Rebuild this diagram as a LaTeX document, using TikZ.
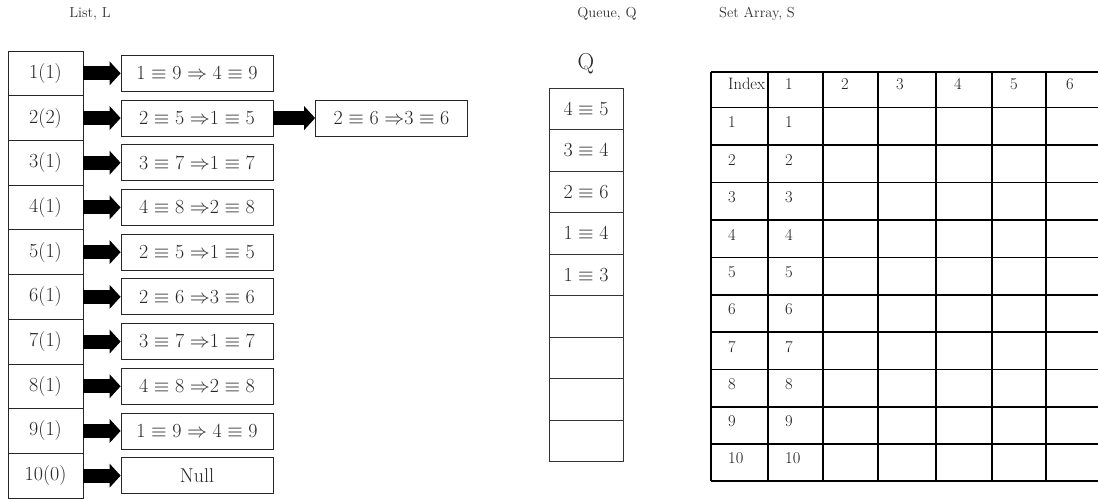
\documentclass[tikz,border=0pt]{standalone}
\usepackage{fix-cm}
\usetikzlibrary{arrows.meta}
\begin{document}
\begin{tikzpicture}[x=1pt,y=-1pt,
  lfont/.style={font=\fontsize{20}{22}\selectfont},
  lcell/.style={draw=black!85, line width=0.7pt, minimum width=75pt, minimum height=44.7pt, inner sep=0pt, text=black!85, lfont},
  lbox/.style={draw=black!85, line width=0.8pt, minimum width=152pt, minimum height=36pt, inner sep=0pt, text=black!85, lfont},
  qcell/.style={draw=black!80, line width=0.7pt, minimum width=74pt, minimum height=41.5pt, inner sep=0pt, text=black!85, lfont},
  blockarr/.style={line width=14pt, black, -{Triangle[length=11pt,width=24pt,line width=0pt]}},
  title/.style={font=\fontsize{14.5}{16}\selectfont, text=black!80, inner sep=0pt},
  tgrid/.style={line width=1.8pt, black},
  ttext/.style={font=\fontsize{16.5}{18}\selectfont, anchor=west, inner sep=0pt, text=black!90}
]
\useasboundingbox[fill=white] (0,0) rectangle (1098,500);

% titles
\node[title] (tL) at (90,14) {List, L};
\node[title] (tQ) at (607,14) {Queue, Q};
\node[title] (tS) at (757,14) {Set Array, S};

% list
\foreach \i/\lab/\txt in {
  1/1(1)/{$1\equiv 9\Rightarrow 4\equiv 9$},
  2/2(2)/{$2\equiv 5\Rightarrow\mkern-5mu 1\equiv 5$},
  3/3(1)/{$3\equiv 7\Rightarrow\mkern-5mu 1\equiv 7$},
  4/4(1)/{$4\equiv 8\Rightarrow\mkern-5mu 2\equiv 8$},
  5/5(1)/{$2\equiv 5\Rightarrow\mkern-5mu 1\equiv 5$},
  6/6(1)/{$2\equiv 6\Rightarrow\mkern-5mu 3\equiv 6$},
  7/7(1)/{$3\equiv 7\Rightarrow\mkern-5mu 1\equiv 7$},
  8/8(1)/{$4\equiv 8\Rightarrow\mkern-5mu 2\equiv 8$},
  9/9(1)/{$1\equiv 9\Rightarrow 4\equiv 9$},
  10/10(0)/{Null}} {
  \node[lcell] (L\i) at (45.5, {51+44.7*(\i-0.5)}) {\lab};
  \node[lbox] (B\i) at (197, {51+44.7*(\i-0.5)}) {\txt};
  \draw[blockarr] (L\i.east) -- (B\i.west);
}
\node[lbox] (B2b) at (391.5, {51+44.7*1.5}) {$2\equiv 6\Rightarrow\mkern-5mu 3\equiv 6$};
\draw[blockarr] (B2.east) -- (B2b.west);

% queue
\node[font=\fontsize{23}{25}\selectfont, text=black!85, inner sep=0pt] (Qh) at (586,64) {Q};
\foreach \i/\txt in {1/{$4\equiv 5$},2/{$3\equiv 4$},3/{$2\equiv 6$},4/{$1\equiv 4$},5/{$1\equiv 3$},6/{},7/{},8/{},9/{}} {
  \node[qcell] (Q\i) at (586, {88+41.5*(\i-0.5)}) {\txt};
}

% set array table
\foreach \y in {72,107.5,145,182.5,220,257.5,295,332,369.5,407,444,481} {
  \draw[tgrid] (711,\y) -- (1104,\y);
}
\foreach \x in {711,768,823,878,992,1046} {
  \draw[tgrid] (\x,72) -- (\x,481);
}
\draw[tgrid, line width=2.4pt] (936,72) -- (936,481);
\node[ttext] (h0) at (728,84) {Index};
\foreach \j/\x in {1/785,2/841,3/896,4/954,5/1010,6/1066} {
  \node[ttext] (h\j) at (\x,84) {\j};
}
\foreach \r in {1,...,10} {
  \node[ttext] (r\r a) at (728, {107.5+37.35*(\r-1)+15}) {\r};
  \node[ttext] (r\r b) at (785, {107.5+37.35*(\r-1)+15}) {\r};
}
\end{tikzpicture}
\end{document}
